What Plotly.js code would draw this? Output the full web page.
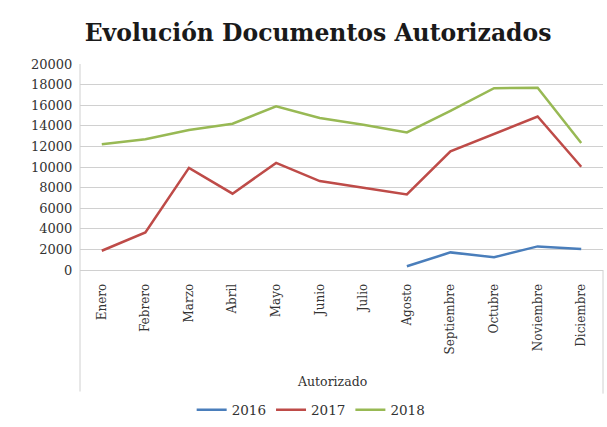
<!DOCTYPE html>
<html>
<head>
<meta charset="utf-8">
<script src="https://cdn.plot.ly/plotly-3.0.1.min.js"></script>
<style>html,body{margin:0;padding:0;background:#fff;}#chart{width:607px;height:427px;}</style>
</head>
<body>
<div id="chart"></div>
<script>
const months = ["Enero","Febrero","Marzo","Abril","Mayo","Junio","Julio","Agosto","Septiembre","Octubre","Noviembre","Diciembre"];
const series2016 = [null,null,null,null,null,null,null,360,1710,1230,2290,2030];
const series2017 = [1870,3640,9920,7410,10400,8630,7990,7340,11530,13230,14900,10020];
const series2018 = [12200,12700,13600,14200,15900,14750,14100,13360,15450,17650,17700,12330];
const seriesNames = ["2016","2017","2018"];
const seriesColors = ["#4a7ebb","#be4b48","#98b954"];

const allSeries = [series2016, series2017, series2018];
const traces = allSeries.map((s, i) => ({
  type: "scatter",
  mode: "lines",
  x: months,
  y: s,
  name: seriesNames[i],
  line: {color: seriesColors[i], width: 2.5},
  connectgaps: false
}));

const serif = "DejaVu Serif, Liberation Serif, serif";
const layout = {
  width: 607, height: 427,
  margin: {l: 80, r: 4, t: 64, b: 156},
  paper_bgcolor: "#ffffff",
  plot_bgcolor: "#ffffff",
  title: {text: "<b>Evolución Documentos Autorizados</b>", font: {family: serif, size: 23.5, color: "#1a1a1a"},
          x: 0.524, xref: "container", xanchor: "center", y: 0.923, yref: "container", yanchor: "middle"},
  showlegend: true,
  legend: {orientation: "h", x: 0.442, xanchor: "center", y: -0.671, yanchor: "middle",
           font: {family: serif, size: 13.5, color: "#333"}, itemwidth: 30, tracegroupgap: 0},
  xaxis: {
    type: "category",
    range: [-0.5, 11.5],
    tickangle: -90,
    tickfont: {family: serif, size: 12, color: "#333"},
    showgrid: false,
    showline: false,
    zeroline: false,
    ticks: "outside", ticklen: 8, tickcolor: "rgba(0,0,0,0)"
  },
  yaxis: {
    range: [0, 20000],
    dtick: 2000,
    tickformat: "d",
    tickfont: {family: serif, size: 13, color: "#333"},
    showgrid: true,
    gridcolor: "#d0d0d0",
    gridwidth: 1,
    zeroline: true,
    zerolinecolor: "#d0d0d0",
    zerolinewidth: 1,
    showline: false,
    ticks: "outside", ticklen: 4, tickcolor: "rgba(0,0,0,0)"
  },
  annotations: [{
    text: "Autorizado", xref: "paper", yref: "paper", x: 0.482, y: -0.541,
    xanchor: "center", yanchor: "middle", showarrow: false,
    font: {family: serif, size: 12.5, color: "#333"}
  }],
  shapes: [
    {type: "line", xref: "paper", yref: "paper", x0: 0, x1: 0, y0: 1, y1: -0.59, line: {color: "#d0d0d0", width: 1}},
    {type: "line", xref: "paper", yref: "paper", x0: 1, x1: 1, y0: 0, y1: -0.60, line: {color: "#d0d0d0", width: 1}}
  ]
};

Plotly.newPlot("chart", traces, layout, {displayModeBar: false, staticPlot: true});
</script>
</body>
</html>
